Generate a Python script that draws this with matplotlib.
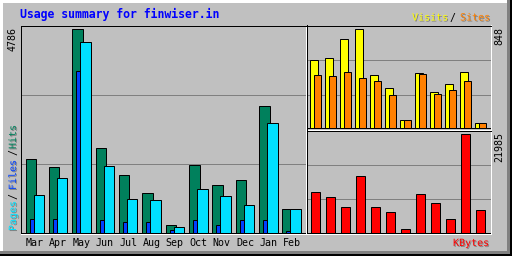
import matplotlib
matplotlib.use("Agg")
import matplotlib.pyplot as plt
import matplotlib.patheffects as pe
from matplotlib.patches import Rectangle
from matplotlib.transforms import Affine2D
import numpy as np

# monthly usage summary for finwiser.in
months = ["Mar", "Apr", "May", "Jun", "Jul", "Aug", "Sep", "Oct", "Nov", "Dec", "Jan", "Feb"]
hits = [1720, 1554, 4786, 2002, 1366, 942, 165, 1601, 1107, 1225, 2991, 542]
files = [313, 313, 3815, 290, 259, 259, 55, 283, 188, 306, 306, 24]
pages = [895, 1295, 4498, 1578, 800, 777, 118, 1013, 848, 659, 2590, 542]
visits = [580, 597, 761, 848, 450, 337, 69, 467, 303, 372, 476, 35]
sites = [450, 441, 476, 424, 398, 277, 69, 459, 285, 320, 398, 43]
kbytes = [8973, 7851, 5608, 12561, 5608, 4486, 673, 8524, 6505, 2916, 21985, 4935]

BG = "#C0C0C0"
GRID = "#808080"
C_HITS, C_FILES, C_PAGES = "#00805C", "#0040FF", "#00E0FF"
C_VISITS, C_SITES, C_KB = "#FFFF00", "#FF8000", "#FF0000"
LW = 0.72  # 1 px at 100 dpi

plt.rcParams["font.family"] = ["DejaVu Sans Mono", "DejaVu Sans"]

W, H = 512, 256
fig = plt.figure(figsize=(W / 100, H / 100), dpi=100)
fig.patch.set_facecolor(BG)
px = Affine2D().scale(1 / W, -1 / H).translate(0, 1) + fig.transFigure

# outer bevel
for (x, y, w, h), c in [((0, 0, 512, 256), "black"), ((0, 0, 510, 254), GRID),
                        ((0, 0, 507, 251), "white"), ((3, 3, 504, 248), BG)]:
    fig.add_artist(Rectangle((x, y), w, h, transform=px, facecolor=c, lw=0, zorder=-5))


def panel(x0, y0, x1, y1, vmax, top_gap, bot_gap):
    ax = fig.add_axes([x0 / W, 1 - y1 / H, (x1 - x0) / W, (y1 - y0) / H])
    ax.set_facecolor(BG)
    ax.set_xlim(0, x1 - x0)
    s = vmax / ((y1 - y0) - top_gap - bot_gap)
    lo, hi = -bot_gap * s, vmax + top_gap * s
    ax.set_ylim(lo, hi)
    for f in (1 / 3, 2 / 3):
        ax.axhline(lo + f * (hi - lo), color=GRID, lw=LW, zorder=0.5)
    ax.axhline(0, color="black", lw=LW, zorder=1.5)
    for k in ("top", "left"):
        ax.spines[k].set_color("black")
    for k in ("bottom", "right"):
        ax.spines[k].set_color("white")
    for sp in ax.spines.values():
        sp.set_linewidth(LW)
        sp.set_zorder(3)
    ax.set_yticks([])
    ax.set_xticks([])
    return ax


idx = np.arange(len(months))
bar_kw = dict(align="edge", edgecolor="black", linewidth=LW, zorder=2)
step = 23.36

# hits / files / pages
ax1 = panel(20.5, 25.5, 305.5, 233.5, max(hits), 3.8, 1)
ax1.bar(idx * step + 5, hits, width=10.5, color=C_HITS, **bar_kw)
ax1.bar(idx * step + 9, files, width=4, color=C_FILES, **bar_kw)
ax1.bar(idx * step + 13, pages, width=10.5, color=C_PAGES, **bar_kw)
ax1.set_xticks(idx * step + 14.2, months)
ax1.tick_params(axis="x", length=0, pad=3.5, labelsize=7.2)

# visits / sites
ax2 = panel(306.5, 25.5, 490.5, 129.5, max(visits), 3.8, 2)
ax2.bar(idx * 15 + 3, visits, width=8, color=C_VISITS, **bar_kw)
ax2.bar(idx * 15 + 7, sites, width=7, color=C_SITES, **bar_kw)

# kbytes
ax3 = panel(306.5, 130.5, 490.5, 233.5, max(kbytes), 3.8, 1)
ax3.bar(idx * 15 + 4, kbytes, width=9, color=C_KB, **bar_kw)

shadow = [pe.withSimplePatchShadow(offset=(0.72, -0.72), shadow_rgbFace="#808080", alpha=1)]
small = dict(transform=px, fontsize=7.2)

fig.text(20, 18, "Usage summary for finwiser.in", transform=px, fontsize=8.3,
         fontweight="bold", color="#0000FF", va="baseline")

fig.text(13, 27, f"{max(hits)}", rotation=90, ha="center", va="top", **small)
fig.text(499.5, 27, f"{max(visits)}", rotation=90, ha="center", va="top", **small)
fig.text(499.5, 132, f"{max(kbytes)}", rotation=90, ha="center", va="top", **small)

for s, y, c in [("Pages", 231, C_PAGES), ("/", 199, "black"), ("Files", 190, C_FILES),
                ("/", 155, "black"), ("Hits", 149, C_HITS)]:
    t = fig.text(13, y, s, rotation=90, ha="center", va="bottom", color=c, **small)
    if c != "black":
        t.set_path_effects(shadow)

for s, x, c in [("Visits", 448, C_VISITS), ("/", 455, "black"), ("Sites", 490, C_SITES)]:
    t = fig.text(x, 20.5, s, ha="right", va="baseline", color=c, **small)
    if c != "black":
        t.set_path_effects(shadow)

t = fig.text(489, 246, "KBytes", ha="right", va="baseline", color=C_KB, **small)
t.set_path_effects(shadow)

fig.savefig("out.png", dpi=100, facecolor=BG)
